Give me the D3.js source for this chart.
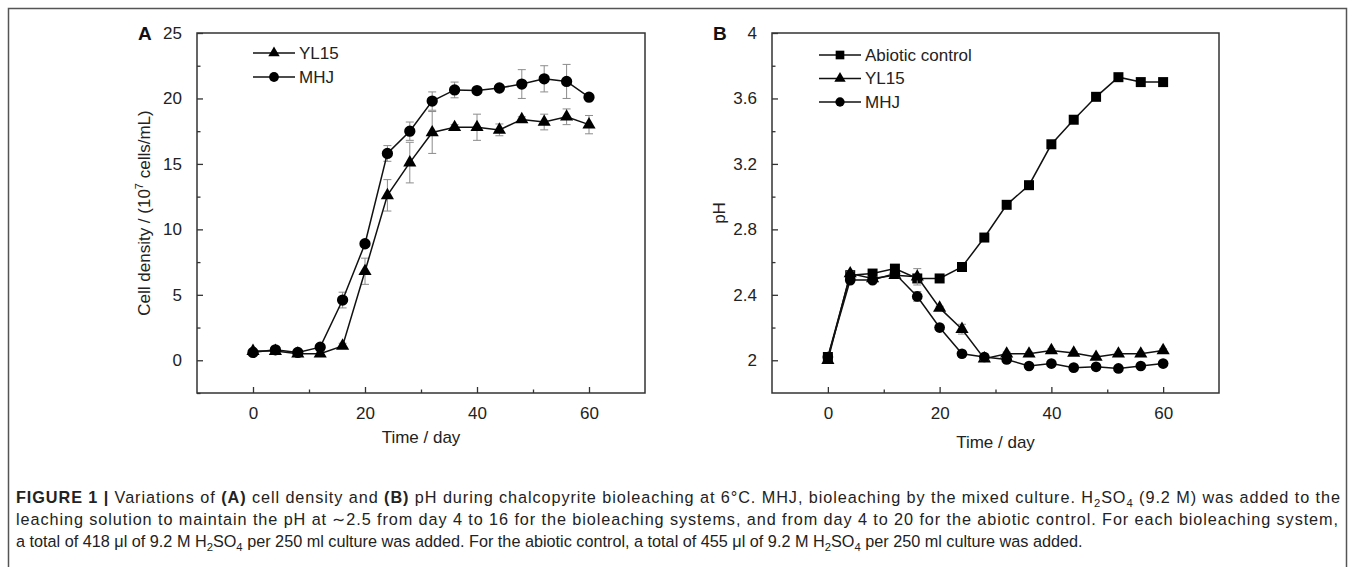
<!DOCTYPE html>
<html>
<head>
<meta charset="utf-8">
<script src="https://cdn.jsdelivr.net/npm/d3@7"></script>
<style>
  body { margin: 0; background: #fff; }
  svg { display: block; font-family: "Liberation Sans", Arial, sans-serif; }
</style>
</head>
<body>
<svg id="fig" width="1355" height="567"></svg>
<script>
// sampling days (same for every series)
const days = [0, 4, 8, 12, 16, 20, 24, 28, 32, 36, 40, 44, 48, 52, 56, 60];

// Panel A: cell density (10^7 cells/mL)
const densYL15 = [0.7, 0.7, 0.5, 0.5, 1.1, 6.8, 12.6, 15.1, 17.4, 17.8, 17.8, 17.6, 18.4, 18.2, 18.6, 18.0];
const densYL15Err = [0.1, 0.1, 0.1, 0.1, 0.2, 1.0, 1.2, 1.55, 1.6, 0.2, 1.0, 0.45, 0.2, 0.6, 0.6, 0.7];
const densMHJ = [0.6, 0.8, 0.6, 1.0, 4.6, 8.9, 15.8, 17.5, 19.8, 20.65, 20.6, 20.8, 21.1, 21.5, 21.3, 20.1];
const densMHJErr = [0.1, 0.1, 0.1, 0.1, 0.6, 0.2, 0.6, 0.7, 0.7, 0.6, 0.1, 0.1, 1.1, 1.0, 1.3, 0.2];

// Panel B: pH
const phAbiotic = [2.02, 2.52, 2.53, 2.56, 2.50, 2.50, 2.57, 2.75, 2.95, 3.07, 3.32, 3.47, 3.61, 3.73, 3.70, 3.70];
const phYL15 = [2.00, 2.53, 2.50, 2.52, 2.51, 2.32, 2.19, 2.01, 2.04, 2.04, 2.06, 2.045, 2.02, 2.04, 2.04, 2.06];
const phYL15Err = [0.01, 0.01, 0.01, 0.01, 0.05, 0.01, 0.03, 0.01, 0.01, 0.01, 0.01, 0.01, 0.01, 0.01, 0.01, 0.01];
const phMHJ = [2.02, 2.49, 2.49, 2.53, 2.39, 2.20, 2.04, 2.02, 2.005, 1.965, 1.98, 1.955, 1.96, 1.95, 1.965, 1.98];
const phMHJErr = [0.01, 0.01, 0.01, 0.01, 0.03, 0.01, 0.02, 0.02, 0.01, 0.01, 0.01, 0.01, 0.02, 0.01, 0.01, 0.01];

// axis ticks
const xTicks = [0, 20, 40, 60];
const xMinor = [10, 30, 50];
const densTicks = [0, 5, 10, 15, 20, 25];
const densMinor = [-2.5, 2.5, 7.5, 12.5, 17.5, 22.5];
const phTicks = [2, 2.4, 2.8, 3.2, 3.6, 4];
const phMinor = [2.2, 2.6, 3.0, 3.4, 3.8];

const svg = d3.select("#fig");
const frameColor = "#333";
const fs = 17;

// outer figure box
svg.append("rect")
    .attr("x", 8.5).attr("y", 8.5)
    .attr("width", 1338).attr("height", 600)
    .attr("fill", "none")
    .attr("stroke", "#555")
    .attr("stroke-width", 1.5);

function drawPanel(opt) {
    const g = svg.append("g");
    const x = d3.scaleLinear().domain([-10, 70]).range([opt.left, opt.right]);
    const y = d3.scaleLinear().domain(opt.yDomain).range([opt.bottom, opt.top]);

    // frame
    g.append("rect")
        .attr("x", opt.left).attr("y", opt.top)
        .attr("width", opt.right - opt.left).attr("height", opt.bottom - opt.top)
        .attr("fill", "none").attr("stroke", frameColor).attr("stroke-width", 1.5);

    // x axis (ticks pointing inward)
    const xAxis = d3.axisBottom(x).tickValues(xTicks).tickSizeInner(-6).tickSizeOuter(0).tickPadding(14);
    const xa = g.append("g").attr("transform", `translate(0,${opt.bottom})`).call(xAxis);
    const xm = g.append("g").attr("transform", `translate(0,${opt.bottom})`)
        .call(d3.axisBottom(x).tickValues(xMinor).tickSizeInner(-3.5).tickSizeOuter(0).tickFormat(""));

    // y axis
    const yAxis = d3.axisLeft(y).tickValues(opt.yTicks).tickSizeInner(-6).tickSizeOuter(0)
        .tickPadding(15).tickFormat(opt.fmt);
    const ya = g.append("g").attr("transform", `translate(${opt.left},0)`).call(yAxis);
    const ym = g.append("g").attr("transform", `translate(${opt.left},0)`)
        .call(d3.axisLeft(y).tickValues(opt.yMinor).tickSizeInner(-3.5).tickSizeOuter(0).tickFormat(""));

    [xa, xm, ya, ym].forEach(a => {
        a.select(".domain").remove();
        a.selectAll("line").attr("stroke", frameColor).attr("stroke-width", 1.3);
        a.selectAll("text").attr("font-size", fs).attr("fill", "#222")
            .attr("font-family", "'Liberation Sans', Arial, sans-serif");
    });

    // axis titles
    g.append("text")
        .attr("x", (opt.left + opt.right) / 2).attr("y", opt.bottom + opt.xTitleDy)
        .attr("text-anchor", "middle").attr("font-size", fs).attr("fill", "#222")
        .text("Time / day");

    const yt = g.append("text")
        .attr("transform", `translate(${opt.left - 47},${(opt.top + opt.bottom) / 2}) rotate(-90)`)
        .attr("text-anchor", "middle").attr("font-size", fs).attr("fill", "#222");
    opt.yTitle(yt);

    // panel letter
    g.append("text")
        .attr("x", opt.left - 59).attr("y", opt.top + 7)
        .attr("font-size", 19).attr("font-weight", "bold").attr("fill", "#111")
        .text(opt.letter);

    const line = d3.line().x((d, i) => x(days[i])).y(d => y(d));

    opt.series.forEach(s => {
        // error bars
        if (s.err) {
            const eb = g.append("g").attr("stroke", "#8c8c8c").attr("stroke-width", 1);
            s.values.forEach((v, i) => {
                const e = s.err[i];
                const cx = x(days[i]);
                eb.append("line").attr("x1", cx).attr("x2", cx).attr("y1", y(v - e)).attr("y2", y(v + e));
                eb.append("line").attr("x1", cx - 4).attr("x2", cx + 4).attr("y1", y(v - e)).attr("y2", y(v - e));
                eb.append("line").attr("x1", cx - 4).attr("x2", cx + 4).attr("y1", y(v + e)).attr("y2", y(v + e));
            });
        }
        g.append("path")
            .datum(s.values)
            .attr("fill", "none").attr("stroke", "#111").attr("stroke-width", 1.5)
            .attr("d", line);
        g.selectAll(null)
            .data(s.values)
            .enter()
            .append("path")
            .attr("transform", (d, i) => `translate(${x(days[i])},${y(d)})`)
            .attr("d", d3.symbol().type(s.symbol).size(s.size))
            .attr("fill", "#000");
    });

    // legend
    opt.series.forEach((s, i) => {
        const ly = opt.legendY + i * opt.legendStep;
        g.append("line")
            .attr("x1", opt.legendX).attr("x2", opt.legendX + 42)
            .attr("y1", ly).attr("y2", ly)
            .attr("stroke", "#111").attr("stroke-width", 1.5);
        g.append("path")
            .attr("transform", `translate(${opt.legendX + 21},${ly})`)
            .attr("d", d3.symbol().type(s.symbol).size(s.size * 0.75))
            .attr("fill", "#000");
        g.append("text")
            .attr("x", opt.legendX + 46).attr("y", ly)
            .attr("dy", "0.35em").attr("font-size", fs).attr("fill", "#222")
            .text(s.name);
    });
}

drawPanel({
    letter: "A", left: 197, right: 645, top: 33, bottom: 393, xTitleDy: 50,
    yDomain: [-2.5, 25], yTicks: densTicks, yMinor: densMinor, fmt: d3.format("d"),
    yTitle: t => {
        t.append("tspan").text("Cell density / (10");
        t.append("tspan").attr("font-size", 11).attr("dy", -7).text("7");
        t.append("tspan").attr("dy", 7).text(" cells/mL)");
    },
    legendX: 253, legendY: 53, legendStep: 24,
    series: [
        { name: "YL15", values: densYL15, err: densYL15Err, symbol: d3.symbolTriangle, size: 75 },
        { name: "MHJ", values: densMHJ, err: densMHJErr, symbol: d3.symbolCircle, size: 100 }
    ]
});

drawPanel({
    letter: "B", left: 772, right: 1219, top: 33, bottom: 393, xTitleDy: 55,
    yDomain: [1.8, 4], yTicks: phTicks, yMinor: phMinor, fmt: d => d3.format("")(+d.toFixed(1)),
    yTitle: t => t.text("pH"),
    legendX: 819, legendY: 55, legendStep: 23.5,
    series: [
        { name: "Abiotic control", values: phAbiotic, err: null, symbol: d3.symbolSquare, size: 100 },
        { name: "YL15", values: phYL15, err: phYL15Err, symbol: d3.symbolTriangle, size: 75 },
        { name: "MHJ", values: phMHJ, err: phMHJErr, symbol: d3.symbolCircle, size: 90 }
    ]
});

// caption (condensed look: same horizontal squeeze on every line, first two lines justified)
const capLines = [
    [["b", "FIGURE 1 | "], ["", "Variations of "], ["b", "(A)"], ["", " cell density and "], ["b", "(B)"],
     ["", " pH during chalcopyrite bioleaching at 6°C. MHJ, bioleaching by the mixed culture. H"], ["sub", "2"],
     ["", "SO"], ["sub", "4"], ["", " (9.2 M) was added to the"]],
    [["", "leaching solution to maintain the pH at ∼2.5 from day 4 to 16 for the bioleaching systems, and from day 4 to 20 for the abiotic control. For each bioleaching system,"]],
    [["", "a total of 418 μl of 9.2 M H"], ["sub", "2"], ["", "SO"], ["sub", "4"],
     ["", " per 250 ml culture was added. For the abiotic control, a total of 455 μl of 9.2 M H"], ["sub", "2"],
     ["", "SO"], ["sub", "4"], ["", " per 250 ml culture was added."]]
];
const capWidths = [1324, 1322, 1067];
const capTexts = capLines.map((parts, li) => {
    const t = svg.append("text")
        .attr("font-size", 16.5).attr("fill", "#222");
    let shifted = false;
    parts.forEach(([kind, str]) => {
        const sp = t.append("tspan").text(str);
        if (kind === "b") sp.attr("font-weight", "bold");
        if (kind === "sub") {
            sp.attr("font-size", 11.5).attr("dy", 4);
            shifted = true;
        } else if (shifted) {
            sp.attr("dy", -4);
            shifted = false;
        }
    });
    return t;
});
const lastNatural = capTexts[2].node().getComputedTextLength();
const squeeze = capWidths[2] / lastNatural;
capTexts.forEach((t, li) => {
    t.attr("transform", `translate(16,${503 + li * 21.8}) scale(${squeeze},1)`);
    if (li < 2) {
        t.attr("textLength", capWidths[li] / squeeze).attr("lengthAdjust", "spacing");
    }
});
</script>
</body>
</html>
